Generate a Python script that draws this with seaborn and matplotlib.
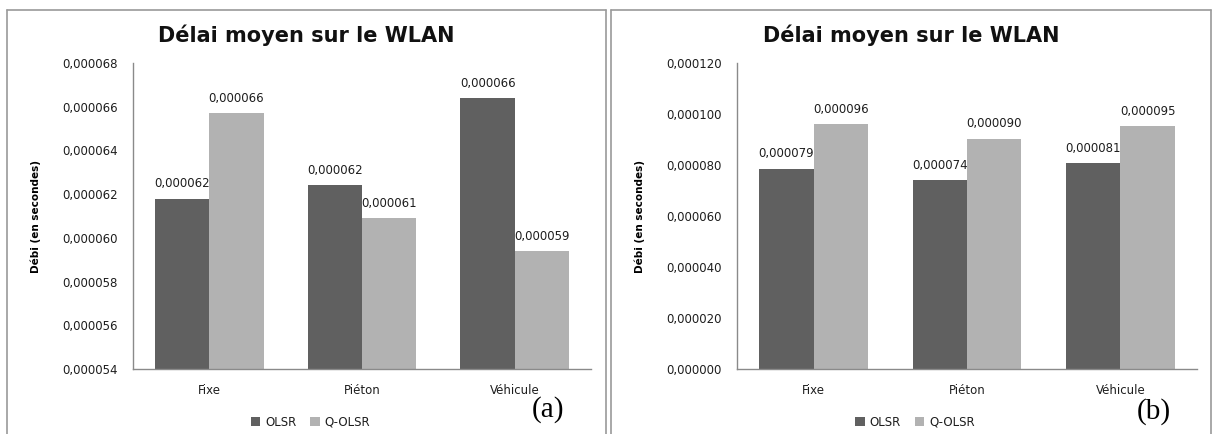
import matplotlib
matplotlib.use("Agg")
import matplotlib.pyplot as plt
import seaborn as sns
import pandas as pd
from matplotlib.lines import Line2D
from matplotlib.patches import Patch

categories = ["Fixe", "Piéton", "Véhicule"]
series_names = ["OLSR", "Q-OLSR"]
olsr_a = [0.0000618, 0.0000624, 0.0000664]
qolsr_a = [0.0000657, 0.0000609, 0.0000594]
olsr_b = [0.0000786, 0.0000741, 0.0000808]
qolsr_b = [0.0000960, 0.0000903, 0.0000952]
title = "Délai moyen sur le WLAN"
ylabel = "Débi (en secondes)"
yticks_a = [0.000054, 0.000056, 0.000058, 0.000060, 0.000062, 0.000064, 0.000066, 0.000068]
yticks_b = [0.0, 0.00002, 0.00004, 0.00006, 0.00008, 0.00010, 0.00012]
panel_tags = ["(a)", "(b)"]

sns.set_theme(style="white")
plt.rcParams["font.family"] = ["DejaVu Sans"]

W, H = 1213, 434
fig = plt.figure(figsize=(W / 100, H / 100), dpi=100)
fig.patch.set_facecolor("white")

colors = {"OLSR": "#606060", "Q-OLSR": "#b2b2b2"}
text_col = "#1e1e1e"
axis_col = "#8a8a8a"


def fx(px):
    return px / W


def fy(py):
    return 1 - py / H


def fmt(v):
    return f"{v:.6f}".replace(".", ",")


def make_panel(x0, x1, ax_left, ax_right, olsr, qolsr, yticks, tag):
    for (xa, ya, xb, yb) in [(x0, 10, x1, 10), (x0, 10, x0, 440), (x1, 10, x1, 440)]:
        fig.add_artist(Line2D([fx(xa), fx(xb)], [fy(ya), fy(yb)], color="#9a9a9a", lw=1.2))
    ax = fig.add_axes([fx(ax_left), fy(369), fx(ax_right - ax_left), (369 - 63) / H])
    df = pd.DataFrame({
        "cat": categories * 2,
        "serie": [series_names[0]] * 3 + [series_names[1]] * 3,
        "val": list(olsr) + list(qolsr),
    })
    sns.barplot(data=df, x="cat", y="val", hue="serie", palette=colors, width=0.71,
                saturation=1, ax=ax, legend=False, errorbar=None, linewidth=0,
                edgecolor="none")
    ax.set_ylim(yticks[0], yticks[-1])
    ax.set_yticks(yticks)
    ax.set_yticklabels([fmt(t) for t in yticks], fontsize=8.5, color=text_col)
    ax.set_xlabel("")
    ax.set_ylabel(ylabel, fontsize=7.5, fontweight="bold", color="black")
    ax.yaxis.set_label_coords(-0.2, 0.5)
    ax.tick_params(axis="y", length=0, pad=11)
    ax.tick_params(axis="x", length=0, pad=11, labelsize=8.5, labelcolor=text_col)
    for s in ["top", "right"]:
        ax.spines[s].set_visible(False)
    for s in ["left", "bottom"]:
        ax.spines[s].set_color(axis_col)
        ax.spines[s].set_linewidth(1.0)
    for cont in ax.containers:
        ax.bar_label(cont, labels=[fmt(v) for v in cont.datavalues], padding=6,
                     fontsize=8.5, color=text_col)
    cx = (x0 + x1) / 2
    fig.text(fx(cx), fy(35), title, ha="center", va="center", fontsize=15,
             fontweight="bold", color="#111111")
    handles = [Patch(facecolor=colors[n], edgecolor="none") for n in series_names]
    fig.legend(handles, series_names, loc="center", bbox_to_anchor=(fx(cx + 4), fy(422)),
               ncol=2, frameon=False, fontsize=8.5, handlelength=0.8, handleheight=0.8,
               handletextpad=0.4, columnspacing=1.2, labelcolor=text_col)
    return ax


make_panel(7, 606, 133, 591, olsr_a, qolsr_a, yticks_a, panel_tags[0])
make_panel(611, 1211, 737, 1197, olsr_b, qolsr_b, yticks_b, panel_tags[1])

fig.text(fx(548), fy(410), panel_tags[0], ha="center", va="center", fontsize=21,
         family="Liberation Serif", color="black")
fig.text(fx(1154), fy(412), panel_tags[1], ha="center", va="center", fontsize=21,
         family="Liberation Serif", color="black")

fig.savefig("out.png", dpi=100, facecolor="white")
